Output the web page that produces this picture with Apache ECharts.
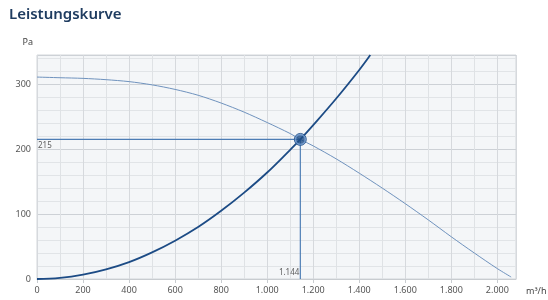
<!DOCTYPE html>
<html><head><meta charset="utf-8">
<script src="https://cdn.jsdelivr.net/npm/echarts@6/dist/echarts.min.js"></script>
<style>html,body{margin:0;padding:0;background:#fff}#c{width:548px;height:300px}</style>
</head><body><div id="c"></div>
<script>
const titleText = 'Leistungskurve';
const xName = 'm³/h';
const yName = 'Pa';
// fan curve (pressure vs. flow)
const fanFlow = [0,100,200,300,400,500,600,700,800,900,1000,1100,1144,1200,1300,1400,1500,1600,1700,1800,1900,2000,2060];
const fanPressure = [311,310,309,307,304,299,292,283,271,257,241,224,215,205,185,163,140,116,91,65,40,16,3];
// system curve
const sysFlow = [0,100,200,300,400,500,600,700,800,900,1000,1100,1144,1200,1300,1400,1448];
const sysPressure = [0,1.6,6.6,14.8,26,41,59,80,105,133,164,199,215,237,278,322,345];
// operating point
const opFlow = 1144;
const opPressure = 215;

const fanData = fanFlow.map((x,i)=>[x,fanPressure[i]]);
const sysData = sysFlow.map((x,i)=>[x,sysPressure[i]]);
const fmt = v => v >= 1000 ? (Math.floor(v/1000) + '.' + String(v%1000).padStart(3,'0')) : String(v);

const chart = echarts.init(document.getElementById('c'));
chart.setOption({
  animation:false,
  textStyle:{fontFamily:'Noto Sans'},
  title:{text:titleText,left:4,top:2,textStyle:{fontSize:15,fontWeight:600,color:'#1f3c60',fontFamily:'Noto Sans'}},
  grid:{left:37,right:32,top:55,bottom:21,containLabel:false,outerBoundsMode:'none',show:true,backgroundColor:'#f4f6f8',borderColor:'#d3d6da',borderWidth:1},
  xAxis:{type:'value',min:0,max:2081,interval:200,
    name:xName,nameLocation:'end',nameGap:10,nameTextStyle:{color:'#444',fontSize:9,verticalAlign:'top',padding:[8,0,0,0]},
    axisLine:{show:true,lineStyle:{color:'#c8ccd0'}},
    axisTick:{show:true,length:4,lineStyle:{color:'#c8ccd0'}},
    axisLabel:{color:'#555',fontSize:9,margin:7,showMaxLabel:false,formatter:fmt},
    splitLine:{show:true,lineStyle:{color:'#d6d9dd',width:1}},
    minorTick:{show:false,splitNumber:2},
    minorSplitLine:{show:true,lineStyle:{color:'#dfe2e5',width:1}}},
  yAxis:{type:'value',min:0,max:345,interval:100,
    name:yName,nameLocation:'end',nameGap:8,nameTextStyle:{color:'#444',fontSize:9,align:'right',padding:[0,4,0,0]},
    axisLine:{show:false},axisTick:{show:false},
    axisLabel:{color:'#555',fontSize:9,margin:6,showMaxLabel:false},
    splitLine:{show:true,lineStyle:{color:'#cdd1d6',width:1}},
    minorTick:{show:false,splitNumber:5},
    minorSplitLine:{show:true,lineStyle:{color:'#e1e4e7',width:1}}},
  series:[
    {type:'line',data:fanData,smooth:0.3,symbol:'none',lineStyle:{color:'#6f92bd',width:1},z:3},
    {type:'line',data:sysData,smooth:0.4,symbol:'none',lineStyle:{color:'#1c4b85',width:1.8},z:4},
    {type:'line',data:[[0,opPressure],[opFlow,opPressure],[opFlow,0]],symbol:'none',lineStyle:{color:'#4d7db5',width:1.2},z:3},
    {type:'scatter',data:[[0,opPressure]],symbolSize:0,label:{show:true,formatter:String(opPressure),position:'right',distance:1,offset:[0,6],color:'#333',fontSize:8},z:5},
    {type:'scatter',data:[[opFlow,0]],symbolSize:0,label:{show:true,formatter:fmt(opFlow),position:'left',distance:1,offset:[0,-6],color:'#333',fontSize:8},z:5},
    {type:'scatter',data:[[opFlow,opPressure]],symbol:'circle',symbolSize:10,itemStyle:{color:'#1c4b85',borderColor:'#6f9ad0',borderWidth:2,shadowBlur:0},z:6},
    {type:'scatter',data:[[opFlow,opPressure]],symbol:'circle',symbolSize:12,itemStyle:{color:'rgba(0,0,0,0)',borderColor:'#1c4b85',borderWidth:1},z:7}
  ]
});
</script></body></html>
